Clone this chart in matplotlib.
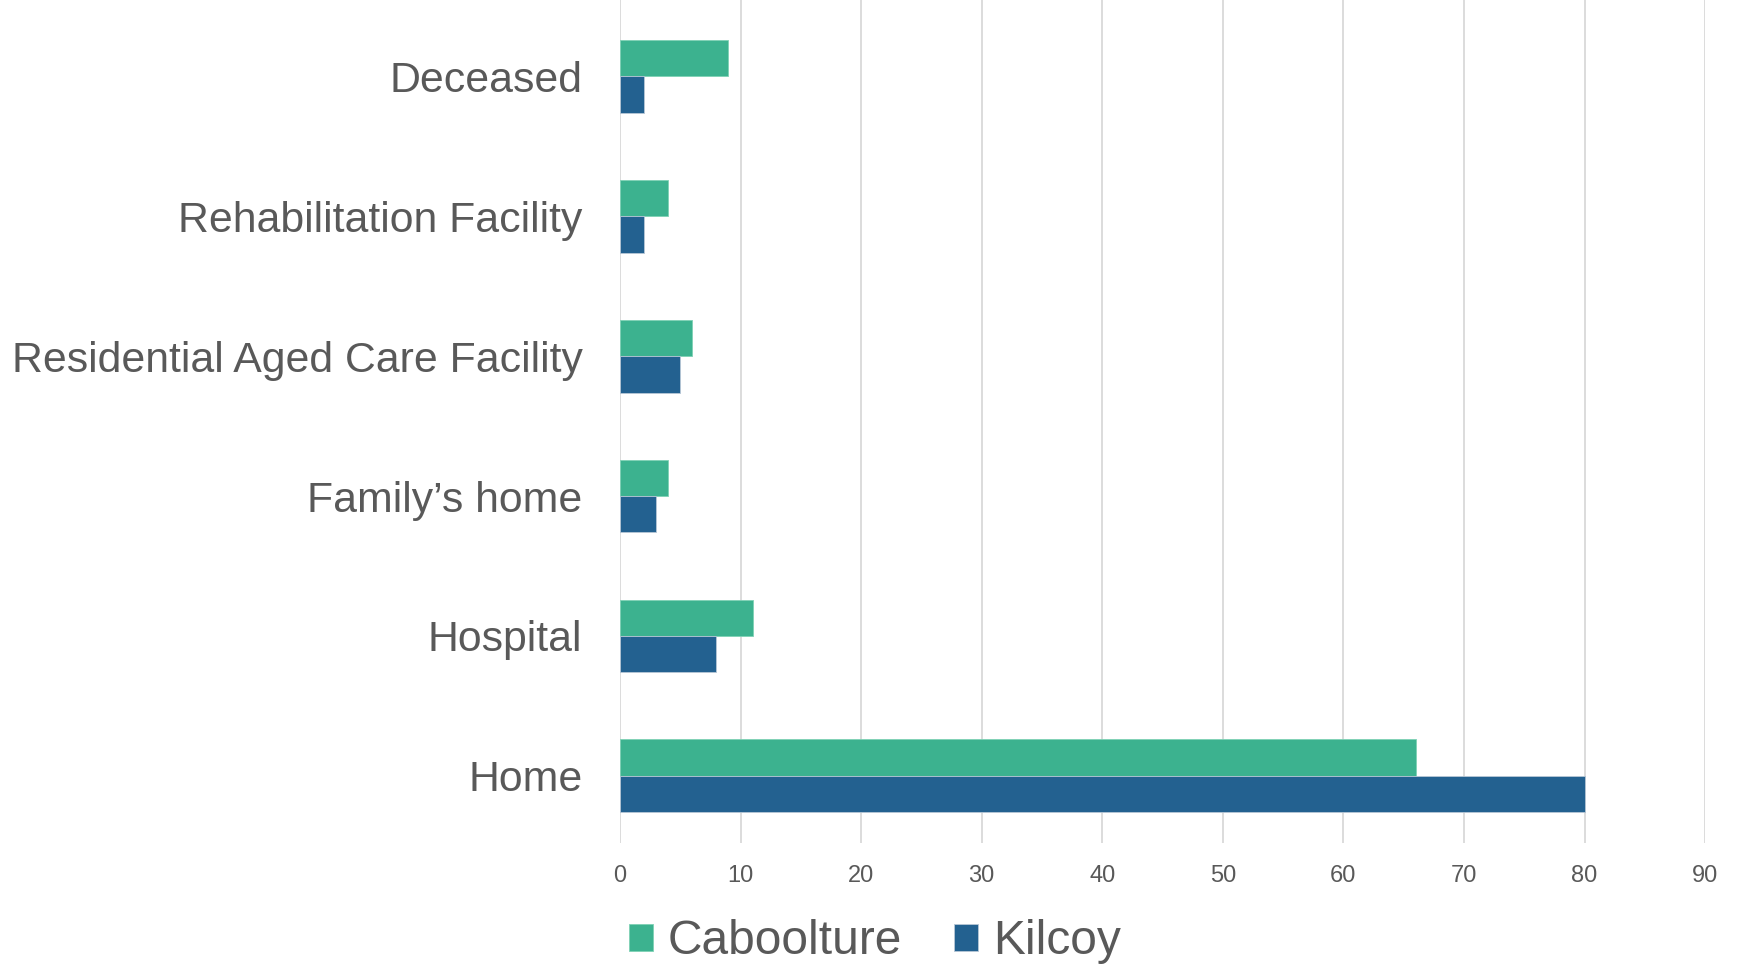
import numpy as np
import matplotlib
matplotlib.use("Agg")
import matplotlib.pyplot as plt

plt.rcParams["font.family"] = ["Liberation Sans", "DejaVu Sans"]

# Data (bottom to top, as drawn on the y axis)
categories = ["Home", "Hospital", "Family\u2019s home",
              "Residential Aged Care Facility", "Rehabilitation Facility", "Deceased"]
caboolture = [66, 11, 4, 6, 4, 9]
kilcoy = [80, 8, 3, 5, 2, 2]
x_ticks = list(range(0, 100, 10))

green = "#3CB28F"
blue = "#236190"
text_color = "#595959"

fig = plt.figure(figsize=(17.39, 9.65), dpi=100)
ax = fig.add_axes([0.3565, 0.1264, 0.6240, 0.8736])

y = np.arange(len(categories))
h = 0.26
ax.barh(y + h / 2, caboolture, height=h, color=green, edgecolor="#7FD1B5",
        linewidth=0.6, label="Caboolture", zorder=3)
ax.barh(y - h / 2, kilcoy, height=h, color=blue, edgecolor="#B8C7D6",
        linewidth=0.6, label="Kilcoy", zorder=3)

ax.set_xlim(0, 90)
ax.set_ylim(-0.48, 5.546)
ax.set_xticks(x_ticks)
ax.set_yticks(y)
ax.set_yticklabels(categories)

ax.grid(axis="x", color="#D9D9D9", linewidth=1.3, zorder=0)
ax.grid(axis="y", visible=False)
for s in ax.spines.values():
    s.set_visible(False)

ax.tick_params(axis="y", length=0, pad=27, labelsize=30.8, labelcolor=text_color)
ax.tick_params(axis="x", length=0, pad=16, labelsize=17, labelcolor=text_color)

fig.legend(loc="center", bbox_to_anchor=(0.503, 0.024), ncol=2, frameon=False,
           fontsize=34.5, labelcolor=text_color, handlelength=0.5, handleheight=0.5,
           handletextpad=0.3, columnspacing=1.1)

fig.savefig("out.png", dpi=100)
